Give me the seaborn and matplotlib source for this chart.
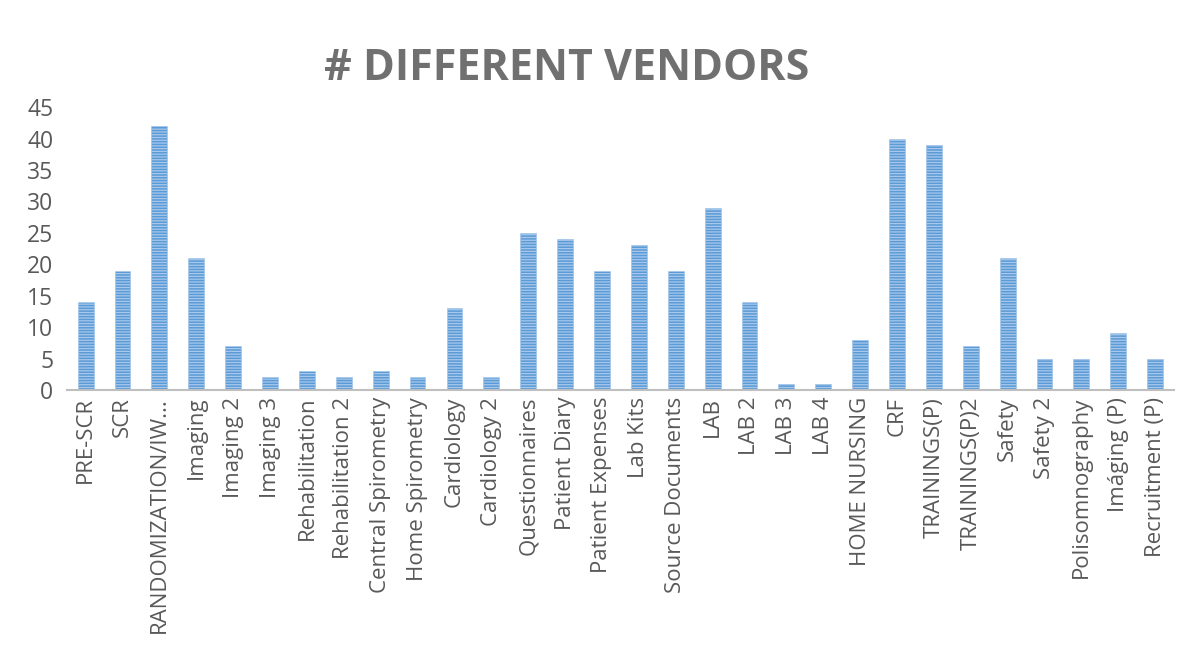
import seaborn as sns
import matplotlib.pyplot as plt
import pandas as pd

categories = ["PRE-SCR", "SCR", "RANDOMIZATION/IW...", "Imaging", "Imaging 2", "Imaging 3",
              "Rehabilitation", "Rehabilitation 2", "Central Spirometry", "Home Spirometry",
              "Cardiology", "Cardiology 2", "Questionnaires", "Patient Diary", "Patient Expenses",
              "Lab Kits", "Source Documents", "LAB", "LAB 2", "LAB 3", "LAB 4", "HOME NURSING",
              "CRF", "TRAININGS(P)", "TRAININGS(P)2", "Safety", "Safety 2", "Polisomnography",
              "Imáging (P)", "Recruitment (P)"]
vendors = [14, 19, 42, 21, 7, 2, 3, 2, 3, 2, 13, 2, 25, 24, 19, 23, 19, 29, 14, 1, 1, 8,
           40, 39, 7, 21, 5, 5, 9, 5]
y_ticks = [0, 5, 10, 15, 20, 25, 30, 35, 40, 45]

df = pd.DataFrame({"category": categories, "vendors": vendors})

sns.set_style("white")
plt.rcParams['font.family'] = ['Open Sans', 'DejaVu Sans']
plt.rcParams['hatch.linewidth'] = 0.9

fig = plt.figure(figsize=(12, 6.62), dpi=100)
ax = fig.add_axes([0.056, 0.411, 0.922, 0.427])

sns.barplot(data=df, x="category", y="vendors", ax=ax, color="#5B9BD5",
            width=0.43, saturation=1)
for bar in ax.patches:
    bar.set_hatch("------")
    bar.set_edgecolor("#A7C8EC")
    bar.set_linewidth(0.4)

ax.set_ylim(0, 45)
ax.set_yticks(y_ticks)
ax.set_xlim(-0.5, len(categories) - 0.5)
ax.set_xlabel("")
ax.set_ylabel("")
ax.tick_params(axis="y", labelsize=16.5, labelcolor="#595959", length=0, pad=10)
ax.tick_params(axis="x", labelsize=16, labelcolor="#595959", length=0, pad=5)
plt.setp(ax.get_xticklabels(), rotation=90)

for s in ["top", "right", "left"]:
    ax.spines[s].set_visible(False)
ax.spines["bottom"].set_color("#BFBFBF")
ax.spines["bottom"].set_linewidth(1.5)

fig.text(0.472, 0.897, "# DIFFERENT VENDORS", ha="center", va="center",
         fontsize=31, fontweight="bold", color="#707070")

fig.savefig("out.png", dpi=100)
